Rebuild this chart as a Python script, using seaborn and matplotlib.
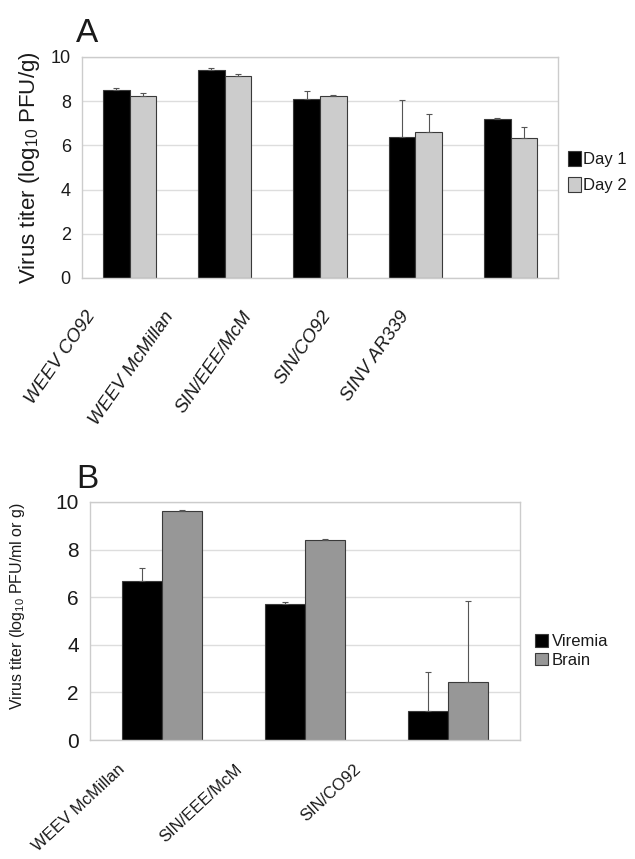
import pandas as pd
import seaborn as sns
import matplotlib.pyplot as plt
from matplotlib.transforms import ScaledTranslation

# Panel A data
strains_a = ['WEEV CO92', 'WEEV McMillan', 'SIN/EEE/McM', 'SIN/CO92', 'SINV AR339']
day1 = [8.52, 9.43, 8.12, 6.40, 7.18]
day2 = [8.22, 9.12, 8.22, 6.62, 6.35]
day1_err = [0.08, 0.08, 0.32, 1.63, 0.08]
day2_err = [0.16, 0.12, 0.04, 0.80, 0.48]

# Panel B data
strains_b = ['WEEV McMillan', 'SIN/EEE/McM', 'SIN/CO92']
viremia = [6.68, 5.71, 1.20]
brain = [9.62, 8.40, 2.42]
viremia_err = [0.55, 0.08, 1.64]
brain_err = [0.05, 0.06, 3.40]

sns.set_style('white')
plt.rcParams['font.family'] = ['Liberation Sans', 'DejaVu Sans']
plt.rcParams['mathtext.fontset'] = 'custom'
plt.rcParams['mathtext.rm'] = 'Liberation Sans'
plt.rcParams['mathtext.it'] = 'Liberation Sans:italic'
for key in ['text.color', 'axes.labelcolor', 'xtick.labelcolor', 'ytick.labelcolor']:
    plt.rcParams[key] = '#1a1a1a'

df_a = pd.DataFrame({
    'strain': strains_a * 2,
    'day': ['Day 1'] * 5 + ['Day 2'] * 5,
    'titer': day1 + day2,
})
df_b = pd.DataFrame({
    'strain': strains_b * 2,
    'kind': ['Viremia'] * 3 + ['Brain'] * 3,
    'titer': viremia + brain,
})

fig = plt.figure(figsize=(6.35, 8.59), dpi=100)
ax_a = fig.add_axes([0.129, 0.6764, 0.750, 0.2573])
ax_b = fig.add_axes([0.1417, 0.1385, 0.677, 0.2771])


def draw(ax, df, hue, colors, errs_by_hue, ytick_size):
    sns.barplot(data=df, x='strain', y='titer', hue=hue, palette=colors,
                width=0.56, errorbar=None, edgecolor='#3a3a3a', linewidth=0.8,
                saturation=1, ax=ax)
    for cont, errs in zip(ax.containers, errs_by_hue):
        xs = [p.get_x() + p.get_width() / 2 for p in cont.patches]
        ys = [p.get_height() for p in cont.patches]
        ax.errorbar(xs, ys, yerr=[[0] * len(errs), errs], fmt='none',
                    ecolor='#555555', elinewidth=0.8, capsize=2, capthick=0.8)
    ax.set_ylim(0, 10)
    ax.set_yticks([0, 2, 4, 6, 8, 10])
    ax.yaxis.grid(True, color='#dddddd', linewidth=1)
    ax.set_axisbelow(True)
    for s in ax.spines.values():
        s.set_color('#cccccc')
        s.set_linewidth(1)
    n = len(df['strain'].unique())
    ax.set_xlim(-0.5, n - 0.5)
    ax.set_xticks([i - 0.5 for i in range(n + 1)], minor=True)
    ax.tick_params(axis='x', which='major', length=0, pad=0)
    ax.tick_params(axis='x', which='minor', length=4, color='#cccccc')
    ax.tick_params(axis='y', length=4, color='#cccccc', labelsize=ytick_size, pad=4)
    ax.set_xlabel('')


def shift_labels(ax, dx0, step, dy):
    # labels in the scanned figure drift left of their categories
    for i, lab in enumerate(ax.get_xticklabels()):
        off = ScaledTranslation((dx0 + step * i) / 100, dy / 100, fig.dpi_scale_trans)
        lab.set_transform(lab.get_transform() + off)


draw(ax_a, df_a, 'day', ['#000000', '#cccccc'], [day1_err, day2_err], 13)
ax_a.set_ylabel('Virus titer (log$_{10}$ PFU/g)', fontsize=16, labelpad=6)
ax_a.set_xticks(range(len(strains_a)))
ax_a.set_xticklabels(strains_a, rotation=55, ha='right', va='center',
                     rotation_mode='anchor', fontsize=13.5, style='italic')
shift_labels(ax_a, -37, -17, -35)
ax_a.legend(loc='center left', bbox_to_anchor=(1.0, 0.48), frameon=False,
            fontsize=12, handlelength=0.8, handleheight=1.0, handletextpad=0.1,
            labelspacing=0.6, borderaxespad=0.2)
ax_a.text(0.01, 1.035, 'A', transform=ax_a.transAxes, fontsize=24,
          ha='center', va='bottom')

draw(ax_b, df_b, 'kind', ['#000000', '#979797'], [viremia_err, brain_err], 15)
ax_b.set_ylabel('Virus titer (log$_{10}$ PFU/ml or g)', fontsize=11.5)
ax_b.yaxis.set_label_coords(-0.147, 0.563)
ax_b.set_xticks(range(len(strains_b)))
ax_b.set_xticklabels(strains_b, rotation=43, ha='right', va='center',
                     rotation_mode='anchor', fontsize=12)
shift_labels(ax_b, -39, -25.5, -27)
ax_b.legend(loc='center left', bbox_to_anchor=(1.0, 0.374), frameon=False,
            fontsize=12, handlelength=0.8, handleheight=0.8, handletextpad=0.2,
            labelspacing=0.2, borderaxespad=0.5)
ax_b.text(-0.006, 1.03, 'B', transform=ax_b.transAxes, fontsize=24,
          ha='center', va='bottom')

fig.savefig('out.png', dpi=100)
